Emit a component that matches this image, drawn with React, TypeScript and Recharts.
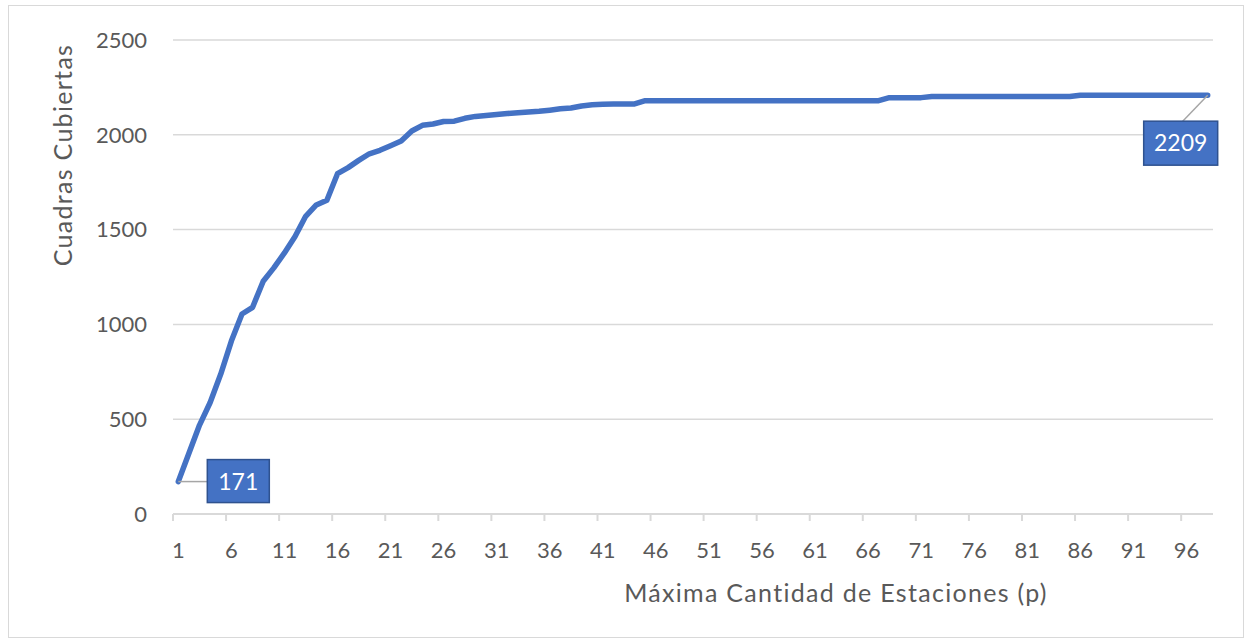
import { LineChart, Line, XAxis, YAxis, CartesianGrid, LabelList } from 'recharts';

// valores (p = 1..98)
const p = Array.from({ length: 98 }, (_, i) => i + 1);
const cuadras = [
  171, 320, 469, 588, 738, 912, 1055, 1090, 1228, 1298,
  1377, 1464, 1570, 1630, 1655, 1795, 1827, 1865, 1900, 1918,
  1942, 1967, 2020, 2050, 2057, 2070, 2072, 2087, 2097, 2102,
  2107, 2112, 2116, 2120, 2124, 2130, 2137, 2141, 2152, 2158,
  2161, 2162, 2162, 2163, 2180, 2180, 2180, 2180, 2180, 2180,
  2180, 2180, 2180, 2180, 2180, 2180, 2180, 2180, 2180, 2180,
  2180, 2180, 2180, 2180, 2180, 2180, 2180, 2196, 2196, 2196,
  2196, 2202, 2202, 2202, 2202, 2202, 2202, 2202, 2202, 2202,
  2202, 2202, 2202, 2202, 2202, 2209, 2209, 2209, 2209, 2209,
  2209, 2209, 2209, 2209, 2209, 2209, 2209, 2209,
];
const yTicks = [0, 500, 1000, 1500, 2000, 2500];

const data = p.map((v, i) => ({ p: v, cuadras: cuadras[i] }));

const FONT = 'Lato, "Open Sans", sans-serif';
const GREY = '#595959';
const BLUE = '#4472C4';
const HALF = 1040 / 98 / 2;

const XTick = (props: any) => {
  const { x, y, payload } = props;
  return (
    <g>
      <line x1={x - HALF} y1={y} x2={x - HALF} y2={y + 7} stroke="#D9D9D9" strokeWidth={2} />
      <text x={x} y={y + 44} textAnchor="middle" fill={GREY} fontSize={22} fontFamily={FONT}>
        {payload.value}
      </text>
    </g>
  );
};

const DataTag = (props: any) => {
  const { x, y, value, index } = props;
  if (index === 0) {
    return (
      <g>
        <line x1={x} y1={y} x2={x + 29} y2={y} stroke="#A6A6A6" strokeWidth={1.5} />
        <rect x={x + 29} y={y - 22} width={62} height={43} fill={BLUE} stroke="#2F528F" strokeWidth={1.5} />
        <text x={x + 60} y={y + 8} textAnchor="middle" fill="#fff" fontSize={23} fontFamily={FONT}>{value}</text>
      </g>
    );
  }
  if (index === cuadras.length - 1) {
    return (
      <g>
        <line x1={x} y1={y} x2={x - 25} y2={y + 26} stroke="#A6A6A6" strokeWidth={1.5} />
        <rect x={x - 64} y={y + 26} width={74} height={44} fill={BLUE} stroke="#2F528F" strokeWidth={1.5} />
        <text x={x - 27} y={y + 56} textAnchor="middle" fill="#fff" fontSize={23} fontFamily={FONT}>{value}</text>
      </g>
    );
  }
  return null;
};

export default function App() {
  return (
    <div style={{ position: 'absolute', left: 0, top: 0, width: 1250, height: 643, background: '#fff' }}>
      <div style={{ position: 'absolute', left: 8, top: 5, width: 1234, height: 631, border: '1px solid #D9D9D9' }} />
      <LineChart width={1250} height={643} data={data} margin={{ top: 40, right: 37, bottom: 69, left: 0 }}>
        <CartesianGrid vertical={false} stroke="#D9D9D9" strokeWidth={1.5} />
        <XAxis
          dataKey="p"
          interval={4}
          height={60}
          padding={{ left: HALF, right: HALF }}
          axisLine={{ stroke: '#D9D9D9', strokeWidth: 2 }}
          tickLine={false}
          tickSize={0}
          tickMargin={0}
          tick={<XTick />}
          label={{
            content: () => (
              <text x={836} y={602} textAnchor="middle" fill={GREY} fontSize={25} letterSpacing={1.3} fontFamily={FONT}>
                Máxima Cantidad de Estaciones (p)
              </text>
            ),
          }}
        />
        <YAxis
          width={173}
          domain={[0, 2500]}
          ticks={yTicks}
          axisLine={false}
          tickLine={false}
          tickSize={0}
          tickMargin={26}
          tick={{ fill: GREY, fontSize: 22, fontFamily: FONT }}
          label={{
            content: () => (
              <text x={72} y={155} transform="rotate(-90 72 155)" textAnchor="middle" fill={GREY} fontSize={25} letterSpacing={1.3} fontFamily={FONT}>
                Cuadras Cubiertas
              </text>
            ),
          }}
        />
        <Line
          type="linear"
          dataKey="cuadras"
          stroke={BLUE}
          strokeWidth={5.5}
          strokeLinejoin="round"
          strokeLinecap="round"
          dot={false}
          activeDot={false}
          isAnimationActive={false}
        >
          <LabelList dataKey="cuadras" content={<DataTag />} />
        </Line>
      </LineChart>
    </div>
  );
}
